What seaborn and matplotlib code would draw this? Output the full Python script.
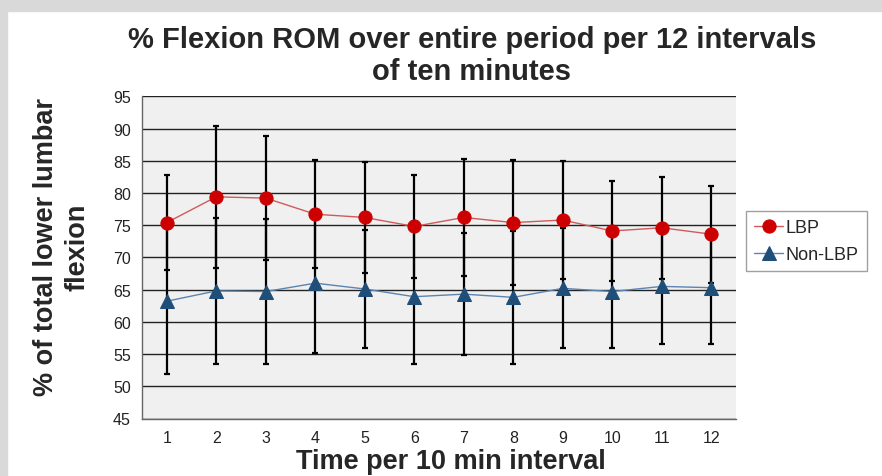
import numpy as np
import pandas as pd
import matplotlib
matplotlib.use("Agg")
import matplotlib.pyplot as plt
import seaborn as sns

# data (mean and SD per 10-minute interval)
intervals = list(range(1, 13))
lbp_mean = [75.4, 79.4, 79.2, 76.7, 76.2, 74.8, 76.2, 75.4, 75.8, 74.1, 74.6, 73.6]
lbp_sd = [7.4, 11.0, 9.6, 8.4, 8.6, 8.0, 9.1, 9.7, 9.1, 7.8, 7.9, 7.5]
nonlbp_mean = [63.2, 64.8, 64.7, 66.0, 65.1, 63.9, 64.3, 63.8, 65.2, 64.7, 65.5, 65.3]
nonlbp_sd = [11.3, 11.3, 11.2, 10.8, 9.2, 10.5, 9.5, 10.3, 9.3, 8.8, 9.0, 8.8]
y_ticks = list(range(45, 100, 5))

df = pd.DataFrame({
    "interval": intervals * 2,
    "value": lbp_mean + nonlbp_mean,
    "sd": lbp_sd + nonlbp_sd,
    "group": ["LBP"] * 12 + ["Non-LBP"] * 12,
})

sns.set_style("white")
plt.rcParams["font.family"] = ["Liberation Sans", "DejaVu Sans"]

fig = plt.figure(figsize=(8.82, 4.77), dpi=100)
fig.patch.set_facecolor("white")

# grey frame strips along the top and left edge
fig.patches.append(plt.Rectangle((0, 1 - 12 / 477), 1, 12 / 477, transform=fig.transFigure,
                                 color="#d9d9d9", zorder=0))
fig.patches.append(plt.Rectangle((0, 0), 7 / 882, 1, transform=fig.transFigure,
                                 color="#d9d9d9", zorder=0))

ax = fig.add_axes([142 / 882, 1 - 419.5 / 477, (736 - 142) / 882, (419.5 - 97.3) / 477])
ax.set_facecolor("#f0f0f0")

styles = {
    "LBP": dict(line="#d05a5a", marker="o", face="#cc0000", size=9.5),
    "Non-LBP": dict(line="#5b84b1", marker="^", face="#1f4e79", size=9.5),
}

for name, grp in df.groupby("group"):
    ax.errorbar(grp["interval"], grp["value"], yerr=grp["sd"], fmt="none",
                ecolor="black", elinewidth=1.6, capsize=2.5, capthick=1.6, zorder=3)

for name, st in styles.items():
    sub = df[df["group"] == name]
    sns.lineplot(data=sub, x="interval", y="value", ax=ax, color=st["line"], linewidth=1.0,
                 marker=st["marker"], markersize=st["size"], markerfacecolor=st["face"],
                 markeredgecolor=st["face"], label=name, zorder=4)

ax.set_xlim(0.5, 12.5)
ax.set_ylim(45, 95)
ax.set_yticks(y_ticks)
ax.set_yticklabels([str(t) for t in y_ticks], fontsize=11.5, color="#222222")
ax.set_xticks(np.arange(0.5, 13, 1))
ax.set_xticklabels([])
ax.set_xticks(intervals, minor=True)
ax.set_xticklabels([str(i) for i in intervals], minor=True, fontsize=11.5, color="#222222")
ax.tick_params(axis="x", which="major", length=5, direction="out", color="#555555", width=1)
ax.tick_params(axis="x", which="minor", length=0, pad=8)
ax.tick_params(axis="y", length=5, direction="out", color="#555555", width=1, pad=3)

ax.yaxis.grid(True, color="#222222", linewidth=1.0)
ax.set_axisbelow(True)
for side in ["top", "right"]:
    ax.spines[side].set_visible(False)
for side in ["left", "bottom"]:
    ax.spines[side].set_color("#666666")
    ax.spines[side].set_linewidth(1.0)

ax.set_xlabel("")
ax.set_ylabel("")
fig.text(451 / 882, 1 - 462 / 477, "Time per 10 min interval", fontsize=19.5,
         fontweight="bold", ha="center", va="center")
fig.text(62 / 882, 1 - 247 / 477, "% of total lower lumbar\nflexion", fontsize=19.5,
         fontweight="bold", ha="center", va="center", rotation=90, linespacing=1.25,
         multialignment="center")

fig.suptitle("% Flexion ROM over entire period per 12 intervals\nof ten minutes",
             x=0.535, y=0.945, fontsize=21, fontweight="bold", linespacing=1.15)

leg = ax.legend(loc="upper left", bbox_to_anchor=(746 / 882, 1 - 212 / 477),
                bbox_transform=fig.transFigure, borderaxespad=0, frameon=True, fontsize=13,
                handlelength=1.6, handletextpad=0.15, borderpad=0.45, labelspacing=0.55,
                fancybox=False)
leg.get_frame().set_edgecolor("#888888")
leg.get_frame().set_linewidth(1.0)

fig.savefig("out.png", dpi=100)
